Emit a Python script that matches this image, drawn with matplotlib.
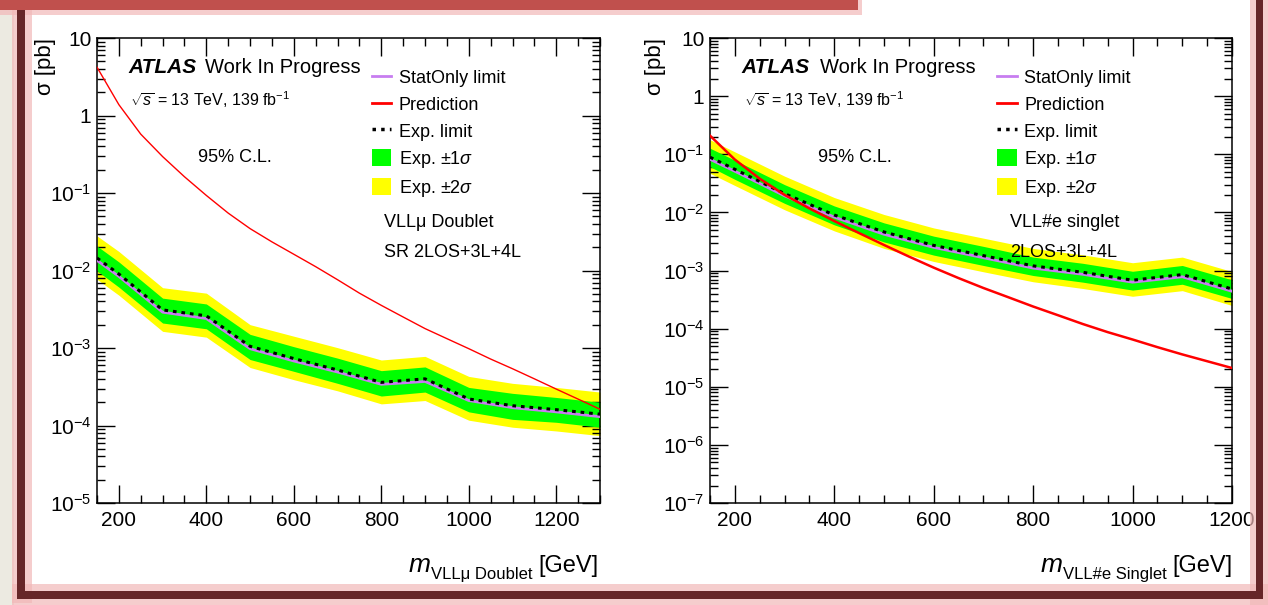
import matplotlib
matplotlib.use("Agg")
import matplotlib.pyplot as plt
import numpy as np
from matplotlib.lines import Line2D
from matplotlib.patches import Patch, Rectangle
from matplotlib.ticker import MultipleLocator, LogLocator, NullFormatter, FuncFormatter

plt.rcParams['font.family'] = ['Liberation Sans', 'DejaVu Sans']
plt.rcParams['mathtext.fontset'] = 'custom'
plt.rcParams['mathtext.rm'] = 'Liberation Sans'
plt.rcParams['mathtext.it'] = 'Liberation Sans:italic'
plt.rcParams['mathtext.bf'] = 'Liberation Sans:bold'

# 左图: VLLmu Doublet
mass_mu = [150, 200, 300, 400, 500, 600, 700, 800, 900, 1000, 1100, 1200, 1300]
exp_mu = [0.0145, 0.0090, 0.0031, 0.0026, 0.00105, 0.00073, 0.00052, 0.00036, 0.00040, 0.00022, 0.00018, 0.00016, 0.00014]
stat_mu = [0.0135, 0.0084, 0.0029, 0.0024, 0.00098, 0.00068, 0.00049, 0.00034, 0.00037, 0.00021, 0.00017, 0.00015, 0.00013]
g_up_mu = [0.0207, 0.0129, 0.0044, 0.0037, 0.0015, 0.00104, 0.00074, 0.00051, 0.00057, 0.00031, 0.00026, 0.00023, 0.00020]
g_dn_mu = [0.0099, 0.0061, 0.0021, 0.00177, 0.00071, 0.00050, 0.00035, 0.00024, 0.00027, 0.00015, 0.00012, 0.00011, 0.000095]
y_up_mu = [0.0280, 0.0176, 0.0060, 0.0051, 0.0020, 0.00142, 0.00101, 0.00070, 0.00078, 0.00043, 0.00035, 0.00031, 0.00027]
y_dn_mu = [0.0077, 0.0048, 0.00164, 0.00138, 0.00056, 0.00039, 0.00028, 0.00019, 0.00021, 0.000117, 0.000095, 0.000085, 0.000074]
# 理论预言 (50 GeV 间隔)
pred_mass_mu = [150, 200, 250, 300, 350, 400, 450, 500, 550, 600, 650, 700, 750, 800, 850, 900,
                950, 1000, 1050, 1100, 1150, 1200, 1250, 1300]
pred_mu = [4.2, 1.38, 0.575, 0.295, 0.162, 0.093, 0.055, 0.0347, 0.0234, 0.0162, 0.0112, 0.0076,
           0.0051, 0.00355, 0.00251, 0.00178, 0.00132, 0.00098, 0.00072, 0.00054, 0.0004,
           0.000295, 0.000219, 0.000162]

# 右图: VLL#e Singlet
mass_e = [150, 200, 300, 400, 500, 600, 700, 800, 900, 1000, 1100, 1200]
exp_e = [0.089, 0.055, 0.021, 0.0090, 0.0046, 0.0027, 0.0018, 0.0012, 0.00093, 0.00068, 0.00085, 0.00048]
stat_e = [0.082, 0.051, 0.0193, 0.0083, 0.0042, 0.0025, 0.00166, 0.0011, 0.00086, 0.00063, 0.00078, 0.00044]
g_up_e = [0.127, 0.079, 0.030, 0.0129, 0.0066, 0.0039, 0.0026, 0.0017, 0.00133, 0.00097, 0.00122, 0.00069]
g_dn_e = [0.061, 0.037, 0.0143, 0.0061, 0.0031, 0.00184, 0.00122, 0.00082, 0.00063, 0.00046, 0.00058, 0.00033]
y_up_e = [0.178, 0.110, 0.042, 0.018, 0.0092, 0.0054, 0.0036, 0.0024, 0.00186, 0.00136, 0.0017, 0.00096]
y_dn_e = [0.047, 0.029, 0.0111, 0.0048, 0.0024, 0.00143, 0.00095, 0.00064, 0.00049, 0.00036, 0.00045, 0.00025]
pred_mass_e = [150, 200, 250, 300, 350, 400, 450, 500, 550, 600, 650, 700, 750, 800, 850, 900,
               950, 1000, 1050, 1100, 1150, 1200]
pred_e = [0.209, 0.081, 0.038, 0.020, 0.0117, 0.0071, 0.0044, 0.00275, 0.00174, 0.00112, 0.00074,
          0.0005, 0.000347, 0.00024, 0.00017, 0.00012, 0.000087, 0.000065, 0.000048, 0.000036,
          0.0000275, 0.000021]

W, H = 1268, 605
fig = plt.figure(figsize=(W / 100, H / 100), dpi=100)
fig.patch.set_facecolor('white')


def px_rect(x0, y0, x1, y1, color, alpha=1.0, z=0):
    # 像素坐标 (左上为原点) 转换为 figure 坐标
    r = Rectangle((x0 / W, 1 - y1 / H), (x1 - x0) / W, (y1 - y0) / H,
                  transform=fig.transFigure, facecolor=color, edgecolor='none',
                  alpha=alpha, zorder=z)
    fig.patches.append(r)


# 幻灯片边框
px_rect(0, 0, 14, H, '#ECEAE1')
px_rect(12, 8, 32, 603, '#F2B8B8', 0.7)
px_rect(12, 584, 1268, 605, '#F2B8B8', 0.7)
px_rect(1250, 0, 1268, 605, '#F2B8B8', 0.7)
px_rect(0, 0, 862, 15, '#F2B8B8', 0.7)
px_rect(0, 0, 858, 10, '#C0504D')
px_rect(17, 10, 25, 599, '#662628')
px_rect(17, 591, 1263, 599, '#662628')
px_rect(1256, 0, 1263, 599, '#662628')


def ytick_fmt(v, pos):
    if v >= 9.9:
        return '10'
    if abs(v - 1) < 1e-9:
        return '1'
    return r'$10^{%d}$' % int(round(np.log10(v)))


def setup_axes(ax, xmin, xmax, ymin, ymax):
    ax.set_yscale('log')
    ax.set_xlim(xmin, xmax)
    ax.set_ylim(ymin, ymax)
    ax.xaxis.set_major_locator(MultipleLocator(200))
    ax.xaxis.set_minor_locator(MultipleLocator(50))
    ax.yaxis.set_major_locator(LogLocator(base=10, numticks=20))
    ax.yaxis.set_minor_locator(LogLocator(base=10, subs=np.arange(2, 10), numticks=20))
    ax.yaxis.set_minor_formatter(NullFormatter())
    ax.yaxis.set_major_formatter(FuncFormatter(ytick_fmt))
    ax.tick_params(which='both', direction='in', top=True, right=True, labelsize=15, pad=4, width=1)
    ax.tick_params(axis='x', which='both', pad=6)
    ax.tick_params(which='major', length=13)
    ax.tick_params(which='minor', length=6)
    for s in ax.spines.values():
        s.set_linewidth(1.1)


def draw_panel(ax, m, exp, stat, gu, gd, yu, yd, pm, pred, red_lw):
    ax.fill_between(m, yd, yu, color='#FFFF00', lw=0, zorder=1)
    ax.fill_between(m, gd, gu, color='#00FF00', lw=0, zorder=2)
    ax.plot(m, stat, color='#C77DF0', lw=2, zorder=3)
    ax.plot(m, exp, color='black', lw=2.2, ls=(0, (1.2, 1.6)), zorder=4)
    ax.plot(pm, pred, color='#FF0000', lw=red_lw, zorder=5)


def add_texts(ax, xa, xw, x95, xl, lab1, lab2):
    ax.text(xa, 0.925, 'ATLAS', transform=ax.transAxes, fontsize=15,
            fontweight='bold', fontstyle='italic', va='baseline')
    ax.text(xw, 0.925, 'Work In Progress', transform=ax.transAxes, fontsize=14.5, va='baseline')
    ax.text(xa + 0.004, 0.867, r'$\sqrt{s}$ = 13 TeV, 139 fb$^{-1}$', transform=ax.transAxes,
            fontsize=11.5, va='center')
    ax.text(x95, 0.744, '95% C.L.', transform=ax.transAxes, fontsize=13, va='center')
    ax.text(xl, 0.604, lab1, transform=ax.transAxes, fontsize=13, va='center')
    ax.text(xl, 0.538, lab2, transform=ax.transAxes, fontsize=13, va='center')
    handles = [Line2D([], [], color='#C77DF0', lw=2),
               Line2D([], [], color='#FF0000', lw=2),
               Line2D([], [], color='black', lw=2.5, ls=(0, (1, 1.5))),
               Patch(facecolor='#00FF00', edgecolor='none'),
               Patch(facecolor='#FFFF00', edgecolor='none')]
    labels = ['StatOnly limit', 'Prediction', 'Exp. limit',
              r'Exp. $\pm$1$\sigma$', r'Exp. $\pm$2$\sigma$']
    ax.legend(handles, labels, loc='upper left', bbox_to_anchor=(xl - 0.025, 0.934),
              frameon=False, fontsize=13, borderpad=0, borderaxespad=0,
              handlelength=1.1, handleheight=1.05, handletextpad=0.4, labelspacing=0.45)


renderer = fig.canvas.get_renderer()


def x_title(x_right, sub):
    # ROOT 风格 x 轴标题: m_{sub} [GeV], 右对齐
    y = 1 - 572 / H
    t1 = fig.text(x_right / W, y, '[GeV]', ha='right', va='baseline', fontsize=17)
    bb = t1.get_window_extent(renderer)
    t2 = fig.text((bb.x0 - 5) / W, y - 7 / H, sub, ha='right', va='baseline', fontsize=12)
    bb2 = t2.get_window_extent(renderer)
    fig.text((bb2.x0 - 1) / W, y, 'm', ha='right', va='baseline', fontsize=19, fontstyle='italic')


# 左图
ax1 = fig.add_axes([97 / W, 1 - 503 / H, (600 - 97) / W, (503 - 38) / H])
setup_axes(ax1, 150, 1300, 1e-5, 10)
draw_panel(ax1, mass_mu, exp_mu, stat_mu, g_up_mu, g_dn_mu, y_up_mu, y_dn_mu,
           pred_mass_mu, pred_mu, 1.0)
add_texts(ax1, 0.062, 0.215, 0.2, 0.571, 'VLLμ Doublet', 'SR 2LOS+3L+4L')

# 右图
ax2 = fig.add_axes([710 / W, 1 - 503 / H, (1232 - 710) / W, (503 - 38) / H])
setup_axes(ax2, 150, 1200, 1e-7, 10)
draw_panel(ax2, mass_e, exp_e, stat_e, g_up_e, g_dn_e, y_up_e, y_dn_e,
           pred_mass_e, pred_e, 1.8)
add_texts(ax2, 0.061, 0.211, 0.207, 0.575, 'VLL#e singlet', '2LOS+3L+4L')

# 坐标轴标题
fig.text(45 / W, 1 - 38 / H, 'σ [pb]', rotation=90, ha='center', va='top', fontsize=16)
fig.text(655 / W, 1 - 38 / H, 'σ [pb]', rotation=90, ha='center', va='top', fontsize=16)
x_title(598, 'VLLμ Doublet')
x_title(1232, 'VLL#e Singlet')

fig.savefig('out.png', dpi=100)
